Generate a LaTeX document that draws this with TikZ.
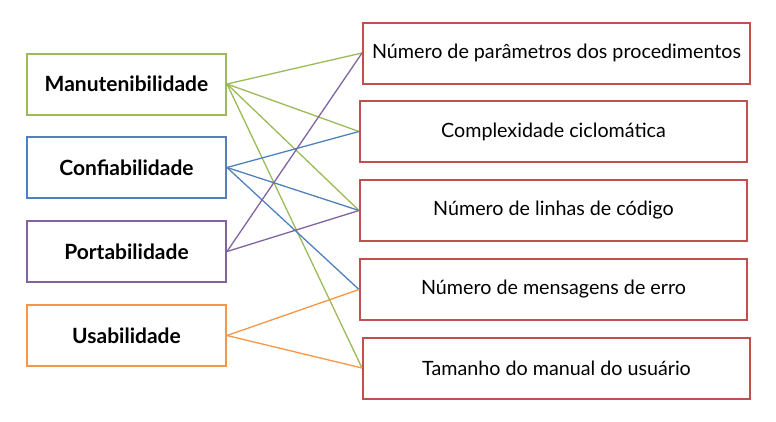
\documentclass[tikz,border=0pt]{standalone}
\usepackage{fontspec}
\setmainfont{Lato}
\definecolor{cgreen}{HTML}{9BBB59}
\definecolor{cblue}{HTML}{4F81BD}
\definecolor{cpurple}{HTML}{8064A2}
\definecolor{corange}{HTML}{F79646}
\definecolor{cred}{HTML}{C0504D}
\begin{document}
\begin{tikzpicture}[x=1pt,y=-1pt,
  lbox/.style={draw,line width=2pt,fill=white,minimum width=199pt,minimum height=61pt,inner sep=0pt,font=\fontsize{21}{24}\selectfont\bfseries},
  rbox/.style={draw=cred,line width=2pt,fill=white,minimum width=387pt,minimum height=61pt,inner sep=0pt,font=\fontsize{19.7}{22}\selectfont},
  link/.style={line width=1.3pt}]
\useasboundingbox (0,0) rectangle (776,421);
\node[lbox,draw=cgreen] (m) at (126.5,84) {Manutenibilidade};
\node[lbox,draw=cblue] (c) at (126.5,167.5) {Confiabilidade};
\node[lbox,draw=cpurple] (p) at (126.5,251.5) {Portabilidade};
\node[lbox,draw=corange] (u) at (126.5,335.5) {Usabilidade};
\node[rbox] (r1) at (556.5,53) {Número de parâmetros dos procedimentos};
\node[rbox] (r2) at (553.5,131.5) {Complexidade ciclomática};
\node[rbox] (r3) at (553.5,210.5) {Número de linhas de código};
\node[rbox] (r4) at (553.5,289.5) {Número de mensagens de erro};
\node[rbox] (r5) at (556.5,368) {Tamanho do manual do usuário};
\draw[link,cgreen] (m.east) -- (r1.west);
\draw[link,cgreen] (m.east) -- (r2.west);
\draw[link,cgreen] (m.east) -- (r3.west);
\draw[link,cgreen] (m.east) -- (r5.west);
\draw[link,cblue] (c.east) -- (r2.west);
\draw[link,cblue] (c.east) -- (r3.west);
\draw[link,cblue] (c.east) -- (r4.west);
\draw[link,cpurple] (p.east) -- (r1.west);
\draw[link,cpurple] (p.east) -- (r3.west);
\draw[link,corange] (u.east) -- (r4.west);
\draw[link,corange] (u.east) -- (r5.west);
\end{tikzpicture}
\end{document}
